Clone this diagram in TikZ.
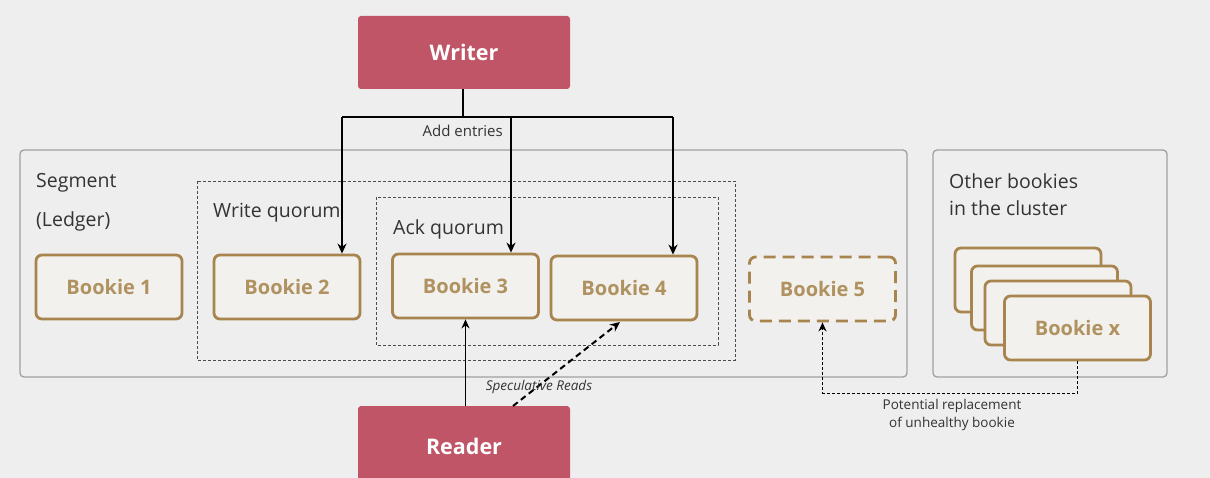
\documentclass[tikz,border=0pt]{standalone}
\usepackage{fontspec}
\setmainfont{Open Sans}
\usetikzlibrary{arrows.meta}
\definecolor{bgc}{HTML}{EEEEEE}
\definecolor{wrc}{HTML}{BF5567}
\definecolor{bkc}{HTML}{A8844F}
\definecolor{bkt}{HTML}{B09260}
\definecolor{bkf}{HTML}{F2F1EE}
\definecolor{frc}{HTML}{A0A0A0}
\definecolor{txc}{HTML}{333333}
\tikzset{
  actor/.style={draw=none, fill=wrc, rounded corners=3pt, text=white, font=\fontsize{21.5}{21.5}\selectfont\bfseries, minimum width=212pt, minimum height=73pt},
  bookie/.style={draw=bkc, fill=bkf, line width=2.8pt, rounded corners=6pt, text=bkt, font=\fontsize{20}{20}\selectfont\bfseries, minimum width=146pt, minimum height=64pt},
  frame/.style={draw=frc, line width=1.3pt, rounded corners=4pt},
  quorum/.style={draw=black!70, line width=0.9pt, dash pattern=on 3pt off 2pt},
  lbl/.style={text=txc, font=\fontsize{19.5}{19.5}\selectfont, inner sep=0pt},
  warr/.style={line width=2.4pt, -{Stealth[length=10pt,width=9pt]}},
}
\begin{document}
\begin{tikzpicture}[x=1pt,y=-1pt]
\useasboundingbox (0,0) rectangle (1210,478);
\clip (0,0) rectangle (1210,478);
\fill[bgc] (0,0) rectangle (1210,478);
% frames
\draw[frame] (20,150) rectangle (907,377);
\draw[frame] (933,150) rectangle (1167,377);
\draw[quorum] (197,181) rectangle (735,360);
\draw[quorum] (376,197) rectangle (718,345);
% labels
\node[lbl, anchor=west] (seg) at (36,183) {Segment};
\node[lbl, anchor=west] (led) at (36,221) {(Ledger)};
\node[lbl, anchor=west] (wq) at (213,213) {Write quorum};
\node[lbl, anchor=west] (aq) at (393,229) {Ack quorum};
\node[lbl, anchor=west] (ob1) at (949,181) {Other bookies};
\node[lbl, anchor=west] (ob2) at (949,208) {in the cluster};
% actors
\node[actor] (writer) at (464,52.5) {Writer};
\node[actor, minimum height=80pt] (reader) at (464,446) {Reader};
% bookies
\node[bookie] (b1) at (109,287) {Bookie 1};
\node[bookie] (b2) at (287,287) {Bookie 2};
\node[bookie] (b3) at (465.5,286) {Bookie 3};
\node[bookie] (b4) at (624,288) {Bookie 4};
\node[bookie, dash pattern=on 12pt off 7pt] (b5) at (822.5,289) {Bookie 5};
\node[bookie] (c1) at (1028,280) {};
\node[bookie] (c2) at (1044.5,298) {};
\node[bookie] (c3) at (1058,313) {};
\node[bookie] (bx) at (1077.5,328) {Bookie x};
% writer connectors
\coordinate (wj) at (463,117);
\coordinate (wl) at (342,117);
\coordinate (wm) at (511,117);
\coordinate (wr) at (673,117);
\draw[line width=2.4pt] (writer.south -| wj) -- (wj);
\draw[line width=2.4pt] (wl) -- (wr);
\draw[warr] (wl) -- (wl |- b2.north);
\draw[warr] (wm) -- (wm |- b3.north);
\draw[warr] (wr) -- (wr |- b4.north);
\node[text=txc, font=\fontsize{15}{15}\selectfont, anchor=east, inner sep=0pt] (add) at (503,131) {Add entries};
% reader connectors
\draw[line width=1.8pt, -{Stealth[length=9pt,width=8pt]}] (reader.north -| b3.south) -- (b3.south);
\coordinate (sp) at (513,406);
\coordinate (b4t) at (620,322);
\draw[line width=2pt, dash pattern=on 6pt off 4pt, -{Stealth[length=10pt,width=9pt]}] (sp) -- (b4t);
\node[text=txc, font=\fontsize{13.5}{13.5}\selectfont\itshape, inner sep=0pt] (spec) at (539,387) {Speculative Reads};
% replacement
\draw[line width=1.5pt, dash pattern=on 3pt off 2pt, -{Stealth[length=9pt,width=8pt]}] (bx.south) -- ++(0,32) -| (b5.south);
\node[text=txc, font=\fontsize{13.5}{17.5}\selectfont, align=center, inner sep=0pt] (pot) at (952,415) {Potential replacement\\of unhealthy bookie};
\end{tikzpicture}
\end{document}
